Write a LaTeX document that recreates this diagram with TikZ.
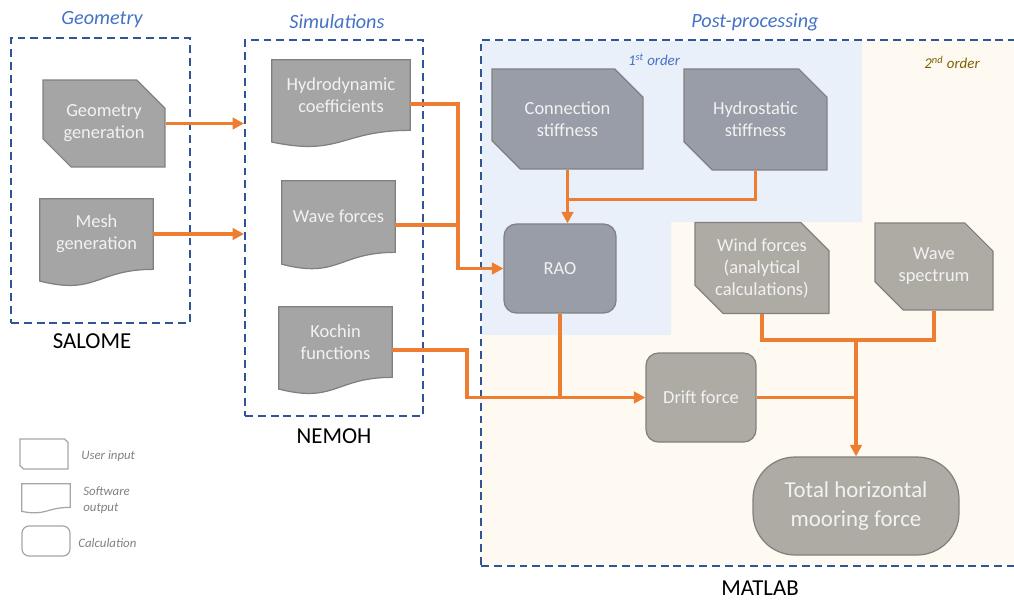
\documentclass[tikz,border=0pt]{standalone}
\usepackage{fontspec}
\setmainfont{Carlito}
\usetikzlibrary{arrows.meta,shapes.misc,calc}

\definecolor{flowor}{HTML}{ED7D31}
\definecolor{dashblue}{HTML}{2F5597}
\definecolor{titleblue}{HTML}{4472C4}
\definecolor{outgray}{HTML}{A5A5A5}
\definecolor{firstgray}{HTML}{989DA7}
\definecolor{secgray}{HTML}{AEABA4}
\definecolor{firstbg}{HTML}{EAF0F9}
\definecolor{secbg}{HTML}{FEFAF2}
\definecolor{ordbrown}{HTML}{806000}
\definecolor{legray}{HTML}{A6A6A6}

\pgfdeclarelayer{bg}
\pgfdeclarelayer{mid}
\pgfsetlayers{bg,mid,main}

\tikzset{
  boxtxt/.style={text=white!95!black, font=\fontsize{10.5}{12.5}\selectfont, align=center, inner sep=1pt},
  usrin/.style={boxtxt, chamfered rectangle, chamfered rectangle corners={north east,south west},
    chamfered rectangle xsep=8pt, chamfered rectangle ysep=8pt, draw=black!50, line width=0.7pt},
  swout/.style={boxtxt},
  swshape/.style={fill=outgray, draw=black!50, line width=0.7pt},
  calcbox/.style={boxtxt, rounded corners=7pt, draw=black!50, line width=0.7pt},
  grpbox/.style={draw=dashblue, dash pattern=on 4.5pt off 2.8pt, line width=1.1pt, inner sep=0pt},
  grptitle/.style={text=titleblue, font=\fontsize{11.5}{13}\selectfont\itshape},
  toolname/.style={font=\fontsize{13}{15}\selectfont},
  ordlbl/.style={font=\fontsize{8.5}{10}\selectfont\itshape},
  legtxt/.style={text=black!50, font=\fontsize{7.3}{9}\selectfont\itshape, inner sep=0pt, align=left, anchor=west},
  flow/.style={draw=flowor, line width=1.9pt}
}

\begin{document}
\begin{tikzpicture}[x=0.02cm,y=-0.02cm,>={Triangle[length=6.5pt,width=6.5pt]}]

\useasboundingbox (0,0) rectangle (1014,599);

% shaded areas of the post-processing part
\begin{pgfonlayer}{bg}
\fill[secbg] (482,41) rectangle (1014,565);
\fill[firstbg] (482,41) -- (862,41) -- (862,222) -- (671,222) -- (671,335) -- (482,335) -- cycle;
\end{pgfonlayer}

% tool boxes
\node[grpbox, minimum width=3.58cm, minimum height=5.7cm] (geobox) at (100.5,180.5) {};
\node[grpbox, minimum width=3.56cm, minimum height=7.52cm] (simbox) at (334,228) {};
\node[grpbox, minimum width=10.74cm, minimum height=10.52cm] (matbox) at (749.5,303) {};

\node[grptitle] (geotitle) at (102,20) {Geometry};
\node[grptitle] (simtitle) at (337,22) {Simulations};
\node[grptitle] (posttitle) at (755,22) {Post-processing};

\node[toolname] (salome) at (92,341) {SALOME};
\node[toolname] (nemoh) at (334,436) {NEMOH};
\node[toolname] (matlab) at (760,588) {MATLAB};

\node[ordlbl, text=titleblue] (first) at (654,60) {1\textsuperscript{st} order};
\node[ordlbl, text=ordbrown] (second) at (952,62) {2\textsuperscript{nd} order};

% geometry and simulations
\node[usrin, fill=outgray, minimum width=2.44cm, minimum height=1.74cm] (geogen) at (104,123.5) {Geometry\\generation};
\node[swout, minimum width=2.26cm, minimum height=1.4cm] (mesh) at (96.5,234) {Mesh\\generation};
\node[swout, minimum width=2.76cm, minimum height=1.4cm] (hydro) at (341,95) {Hydrodynamic\\coefficients};
\node[swout, minimum width=2.26cm, minimum height=1.42cm] (wavef) at (338.5,216.5) {Wave forces};
\node[swout, minimum width=2.26cm, minimum height=1.4cm] (kochin) at (335.5,342) {Kochin\\functions};

% post-processing
\node[usrin, fill=firstgray, minimum width=3.02cm, minimum height=2cm] (conn) at (567.5,119) {Connection\\stiffness};
\node[usrin, fill=firstgray, minimum width=2.86cm, minimum height=2.02cm] (hstat) at (755.5,119.5) {Hydrostatic\\stiffness};
\node[calcbox, fill=firstgray, minimum width=2.24cm, minimum height=1.78cm] (rao) at (560,268.5) {RAO};
\node[usrin, fill=secgray, minimum width=2.68cm, minimum height=1.76cm] (wind) at (762,268) {Wind forces\\(analytical\\calculations)};
\node[usrin, fill=secgray, minimum width=2.36cm, minimum height=1.74cm] (spec) at (934,266.5) {Wave\\spectrum};
\node[calcbox, fill=secgray, minimum width=2.2cm, minimum height=1.78cm] (drift) at (701,397.5) {Drift force};
\node[calcbox, fill=secgray, rounded corners=0.84cm, minimum width=4.12cm, minimum height=1.96cm,
  font=\fontsize{13}{16.4}\selectfont] (total) at (856,506) {Total horizontal\\mooring force};

% legend
\node[usrin, fill=white, draw=legray, chamfered rectangle xsep=3pt, chamfered rectangle ysep=3pt,
  minimum width=0.96cm, minimum height=0.6cm] (leguser) at (44,454) {};
\node[swout, minimum width=0.96cm, minimum height=0.46cm] (legsw) at (46,495.5) {};
\node[calcbox, fill=white, draw=legray, rounded corners=4pt, minimum width=0.96cm, minimum height=0.6cm] (legcalc) at (46,541) {};
\node[legtxt] (legusertxt) at (81,456) {User input};
\node[legtxt] (legswtxt) at (83,500) {Software\\output};
\node[legtxt] (legcalctxt) at (78,543) {Calculation};

% wavy bottoms of the software outputs
\begin{pgfonlayer}{mid}
\foreach \nd/\hh in {mesh/70,hydro/70,wavef/71,kochin/70}
  \filldraw[swshape] (\nd.south east) .. controls (\nd.south) and ($(\nd.south)+(0,0.375*\hh)$)
    .. ($(\nd.south west)+(0,0.167*\hh)$) -- (\nd.north west) -- (\nd.north east) -- cycle;
\filldraw[fill=white, draw=legray, line width=0.7pt] (legsw.south east) .. controls (legsw.south) and ($(legsw.south)+(0,9)$)
    .. ($(legsw.south west)+(0,4)$) -- (legsw.north west) -- (legsw.north east) -- cycle;
\end{pgfonlayer}

% connectors
\coordinate (hturn) at (458,104);
\coordinate (hjoin) at (458,225);
\coordinate (kturn) at (467,350);
\coordinate (sjoin) at ($(conn.south)+(0,30)$);
\coordinate (tjoin) at (856,340);

\draw[flow,->] (geogen.east) -- (geogen.east -| simbox.west);
\draw[flow,->] (mesh.east) -- (mesh.east -| simbox.west);
\draw[flow,->] (hydro.east |- hturn) -- (hturn) |- (rao.west);
\draw[flow] (wavef.east |- hjoin) -- (hjoin);
\draw[flow,->] (kochin.east |- kturn) -- (kturn) |- (drift.west);
\draw[flow] (rao.south) -- (rao.south |- drift.west);
\draw[flow,->] (conn.south) -- (conn.south |- rao.north);
\draw[flow] (hstat.south) |- (sjoin);
\draw[flow] (wind.south) |- (tjoin);
\draw[flow] (spec.south) |- (tjoin);
\draw[flow,->] (tjoin) -- (total.north);
\draw[flow] (drift.east) -- (drift.east -| tjoin);

\end{tikzpicture}
\end{document}
